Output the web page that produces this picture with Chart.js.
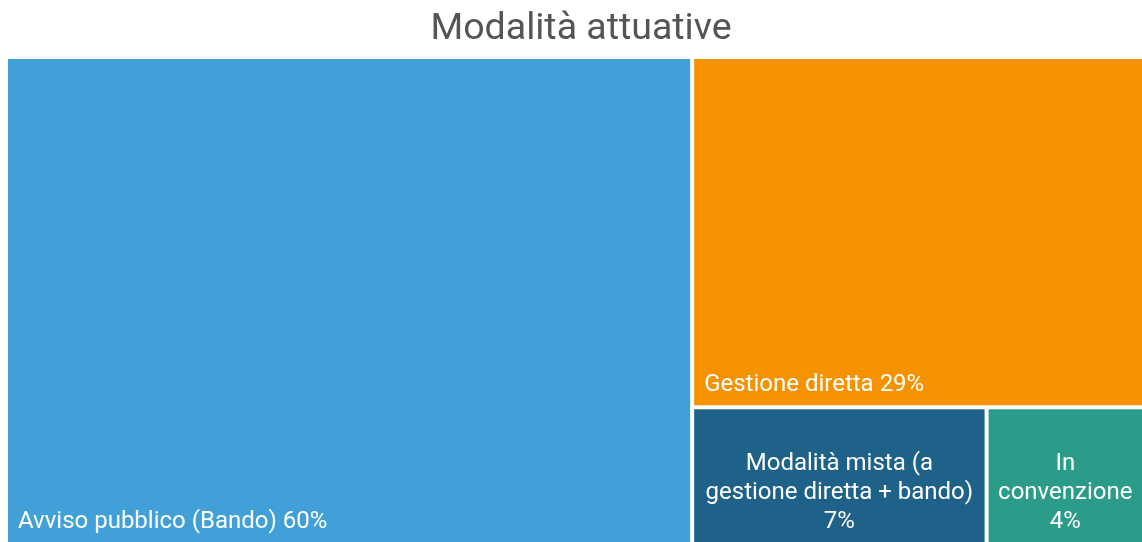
<!DOCTYPE html>
<html>
<head>
<meta charset="utf-8">
<title>Modalità attuative</title>
<script src="https://cdn.jsdelivr.net/npm/chart.js@4/dist/chart.umd.min.js"></script>
<style>
    html, body { margin: 0; padding: 0; background: #fff; }
    #wrap { width: 1142px; height: 542px; }
</style>
</head>
<body>
<div id="wrap"><canvas id="treeChart"></canvas></div>
<script>
// Data
const categories = ['Avviso pubblico (Bando)', 'Gestione diretta', 'Modalità mista (a gestione diretta + bando)', 'In convenzione'];
const values = [60.4, 28.6, 7.2, 3.8];
const colors = ['#42a0d8', '#f59200', '#1f6289', '#2c9c8a'];

// Squarified layout in a w x h box (units of the chart scales)
function squarify(vals, w, h) {
    const total = vals.reduce((a, b) => a + b, 0);
    const items = vals.map((v, i) => ({ i, a: v / total * w * h })).sort((p, q) => q.a - p.a);
    const out = [];
    let x0 = 0, y0 = 0, W = w, H = h;
    let row = [];

    const sum = (r) => r.reduce((a, it) => a + it.a, 0);
    const worst = (r, side) => {
        const s = sum(r);
        const len = s / side;
        let m = 0;
        r.forEach(it => {
            const other = it.a / len;
            m = Math.max(m, len / other, other / len);
        });
        return m;
    };
    const layoutRow = () => {
        const s = sum(row);
        if (W >= H) {
            const cw = s / H;
            let yy = y0;
            row.forEach(it => {
                const rh = it.a / cw;
                out[it.i] = { x0: x0, y0: yy, x1: x0 + cw, y1: yy + rh };
                yy += rh;
            });
            x0 += cw; W -= cw;
        } else {
            const rh = s / W;
            let xx = x0;
            row.forEach(it => {
                const rw = it.a / rh;
                out[it.i] = { x0: xx, y0: y0, x1: xx + rw, y1: y0 + rh };
                xx += rw;
            });
            y0 += rh; H -= rh;
        }
    };

    let k = 0;
    while (k < items.length) {
        const side = Math.min(W, H);
        const cand = row.concat(items[k]);
        if (row.length === 0 || worst(cand, side) <= worst(row, side)) {
            row = cand;
            k++;
        } else {
            layoutRow();
            row = [];
        }
    }
    if (row.length) layoutRow();
    return out;
}

function wrapText(ctx, text, maxWidth) {
    const words = text.split(' ');
    const lines = [];
    let line = '';
    words.forEach(w => {
        const test = line ? line + ' ' + w : w;
        if (line && ctx.measureText(test).width > maxWidth) {
            lines.push(line);
            line = w;
        } else {
            line = test;
        }
    });
    if (line) lines.push(line);
    return lines;
}

// Draws the cells through the chart's x / y scales
const treemapPlugin = {
    id: 'treemap',
    afterLayout(chart) {
        // title sits a bit right of centre in the original
        const t = chart.titleBlock;
        if (t) { t.left += 7; t.right += 7; }
    },
    afterDatasetsDraw(chart) {
        const { ctx, chartArea, scales: { x, y } } = chart;
        const ds = chart.data.datasets[0];
        const ratio = chartArea.width / chartArea.height;
        const rects = squarify(ds.tree, ratio, 1);
        const total = ds.tree.reduce((a, b) => a + b, 0);
        const gap = 2, pad = 10, bottomPad = 14, lineH = 29;
        const eps = 1e-6;

        ctx.save();
        ctx.font = '24px Roboto';
        rects.forEach((r, i) => {
            const left = x.getPixelForValue(r.x0 / ratio) + gap;
            const right = x.getPixelForValue(r.x1 / ratio) - (r.x1 >= ratio - eps ? 0 : gap);
            const top = y.getPixelForValue(r.y0) + gap;
            const bottom = y.getPixelForValue(r.y1) - (r.y1 >= 1 - eps ? 0 : gap);

            ctx.fillStyle = ds.backgroundColor[i];
            ctx.fillRect(left, top, right - left, bottom - top);

            const pct = Math.round(ds.tree[i] / total * 100) + '%';
            const label = chart.data.labels[i];
            const oneLine = label + ' ' + pct;
            const maxW = right - left - 2 * pad;
            ctx.fillStyle = '#ffffff';
            ctx.textBaseline = 'alphabetic';
            if (ctx.measureText(oneLine).width <= maxW) {
                ctx.textAlign = 'left';
                ctx.fillText(oneLine, left + pad, bottom - bottomPad);
            } else {
                const lines = wrapText(ctx, label, maxW).concat(pct);
                ctx.textAlign = 'center';
                const cx = (left + right) / 2;
                lines.forEach((ln, j) => {
                    ctx.fillText(ln, cx, bottom - bottomPad - (lines.length - 1 - j) * lineH);
                });
            }
        });
        ctx.restore();
    }
};

new Chart(document.getElementById('treeChart'), {
    type: 'scatter',
    data: {
        labels: categories,
        datasets: [{
            label: 'Modalità attuative',
            data: [],
            tree: values,
            backgroundColor: colors
        }]
    },
    options: {
        responsive: true,
        maintainAspectRatio: false,
        animation: false,
        layout: {
            padding: { left: 6, right: 0, top: 0, bottom: 0 }
        },
        plugins: {
            legend: { display: false },
            tooltip: { enabled: false },
            title: {
                display: true,
                text: 'Modalità attuative',
                color: '#555555',
                font: { family: 'Roboto', size: 37.5, weight: 'normal' },
                padding: { top: 7, bottom: 5 }
            }
        },
        scales: {
            x: { type: 'linear', min: 0, max: 1, display: false },
            y: { type: 'linear', min: 0, max: 1, reverse: true, display: false }
        }
    },
    plugins: [treemapPlugin]
});
</script>
</body>
</html>
